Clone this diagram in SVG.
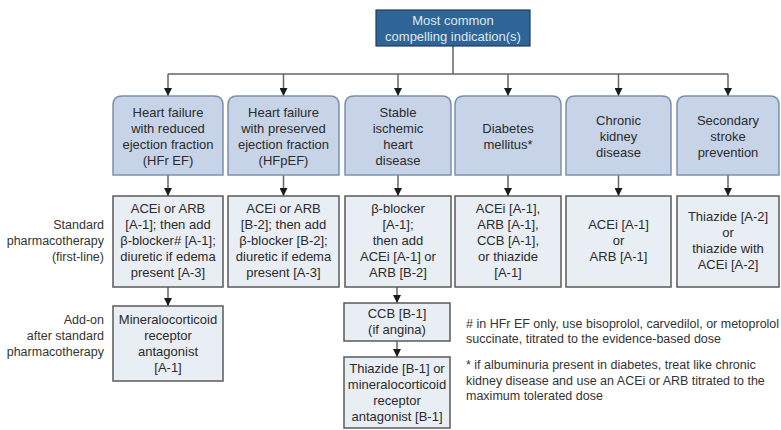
<svg xmlns="http://www.w3.org/2000/svg" width="781" height="430" viewBox="0 0 781 430">
<defs>
<marker id="arr" markerUnits="userSpaceOnUse" markerWidth="8" markerHeight="8" refX="8" refY="4" orient="auto">
<path d="M0,0 L8,4 L0,8 z" fill="#1a1a1a"/>
</marker>
<style>
text{font-family:"Liberation Sans",Arial,sans-serif;font-size:13px;fill:#2b2b2b;text-anchor:middle}
.top rect{fill:#2e6496;stroke:#1d3f61;stroke-width:1.2}
.top text{fill:#dfe9f4}
.cat path{fill:#c7d4e7;stroke:#7b90ad;stroke-width:1.5}
.rx rect{fill:#e9edf4;stroke:#5a5a5a;stroke-width:1.5}
.lbl text{text-anchor:end;font-size:12.5px;fill:#333}
.note text{text-anchor:start;font-size:12.5px;fill:#333}
#connectors path{fill:none;stroke:#666;stroke-width:1.5}
#connectors .a{marker-end:url(#arr)}
</style>
</defs>
<rect width="781" height="430" fill="#ffffff"/>

<g id="connectors">
<path d="M453,46 V74 M168,74 H728"/>
<path class="a" d="M168,74 V96"/>
<path class="a" d="M283.5,74 V96"/>
<path class="a" d="M398,74 V96"/>
<path class="a" d="M508,74 V96"/>
<path class="a" d="M618.5,74 V96"/>
<path class="a" d="M728,74 V96"/>
<path class="a" d="M168,175 V196"/>
<path class="a" d="M283.5,175 V196"/>
<path class="a" d="M398,175 V196"/>
<path class="a" d="M508,175 V196"/>
<path class="a" d="M618.5,175 V196"/>
<path class="a" d="M728,175 V196"/>
<path class="a" d="M168,287 V306"/>
<path class="a" d="M397,287 V303"/>
<path class="a" d="M397,341 V357"/>
</g>

<g id="top" class="top">
<rect x="376" y="10" width="154" height="36"/>
<text x="453" y="24.5">Most common</text>
<text x="453" y="41">compelling indication(s)</text>
</g>

<g id="cat-hfref" class="cat">
<path d="M113,175 V105 Q113,96 122,96 H214 Q223,96 223,105 V175 Z"/>
<text x="168" y="116.5">Heart failure</text>
<text x="168" y="132.5">with reduced</text>
<text x="168" y="148.5">ejection fraction</text>
<text x="168" y="164.5">(HFr EF)</text>
</g>
<g id="cat-hfpef" class="cat">
<path d="M228,175 V105 Q228,96 237,96 H330 Q339,96 339,105 V175 Z"/>
<text x="283.5" y="116.5">Heart failure</text>
<text x="283.5" y="132.5">with preserved</text>
<text x="283.5" y="148.5">ejection fraction</text>
<text x="283.5" y="164.5">(HFpEF)</text>
</g>
<g id="cat-sihd" class="cat">
<path d="M345,175 V105 Q345,96 354,96 H442 Q451,96 451,105 V175 Z"/>
<text x="398" y="116.5">Stable</text>
<text x="398" y="132.5">ischemic</text>
<text x="398" y="148.5">heart</text>
<text x="398" y="164.5">disease</text>
</g>
<g id="cat-dm" class="cat">
<path d="M455,175 V105 Q455,96 464,96 H552 Q561,96 561,105 V175 Z"/>
<text x="508" y="132.5">Diabetes</text>
<text x="508" y="148.5">mellitus*</text>
</g>
<g id="cat-ckd" class="cat">
<path d="M566,175 V105 Q566,96 575,96 H662 Q671,96 671,105 V175 Z"/>
<text x="618.5" y="124.5">Chronic</text>
<text x="618.5" y="140.5">kidney</text>
<text x="618.5" y="156.5">disease</text>
</g>
<g id="cat-stroke" class="cat">
<path d="M677,175 V105 Q677,96 686,96 H770 Q779,96 779,105 V175 Z"/>
<text x="728" y="124.5">Secondary</text>
<text x="728" y="140.5">stroke</text>
<text x="728" y="156.5">prevention</text>
</g>

<g id="lbl-standard" class="lbl">
<text x="104" y="228.5">Standard</text>
<text x="104" y="244.5">pharmacotherapy</text>
<text x="104" y="260.5">(first-line)</text>
</g>
<g id="lbl-addon" class="lbl">
<text x="104" y="323.5">Add-on</text>
<text x="104" y="339.5">after standard</text>
<text x="104" y="355.5">pharmacotherapy</text>
</g>

<g id="rx-hfref" class="rx">
<rect x="113" y="196" width="110" height="91"/>
<text x="168" y="212.5">ACEi or ARB</text>
<text x="168" y="228.5">[A-1]; then add</text>
<text x="168" y="244.5">β-blocker# [A-1];</text>
<text x="168" y="260.5">diuretic if edema</text>
<text x="168" y="276.5">present [A-3]</text>
</g>
<g id="rx-hfpef" class="rx">
<rect x="228" y="196" width="111" height="91"/>
<text x="283.5" y="212.5">ACEi or ARB</text>
<text x="283.5" y="228.5">[B-2]; then add</text>
<text x="283.5" y="244.5">β-blocker [B-2];</text>
<text x="283.5" y="260.5">diuretic if edema</text>
<text x="283.5" y="276.5">present [A-3]</text>
</g>
<g id="rx-sihd" class="rx">
<rect x="345" y="196" width="106" height="91"/>
<text x="398" y="212.5">β-blocker</text>
<text x="398" y="228.5">[A-1];</text>
<text x="398" y="244.5">then add</text>
<text x="398" y="260.5">ACEi [A-1] or</text>
<text x="398" y="276.5">ARB [B-2]</text>
</g>
<g id="rx-dm" class="rx">
<rect x="455" y="196" width="106" height="91"/>
<text x="508" y="212.5">ACEi [A-1],</text>
<text x="508" y="228.5">ARB [A-1],</text>
<text x="508" y="244.5">CCB [A-1],</text>
<text x="508" y="260.5">or thiazide</text>
<text x="508" y="276.5">[A-1]</text>
</g>
<g id="rx-ckd" class="rx">
<rect x="566" y="196" width="105" height="91"/>
<text x="618.5" y="228.5">ACEi [A-1]</text>
<text x="618.5" y="244.5">or</text>
<text x="618.5" y="260.5">ARB [A-1]</text>
</g>
<g id="rx-stroke" class="rx">
<rect x="677" y="196" width="102" height="91"/>
<text x="728" y="220.5">Thiazide [A-2]</text>
<text x="728" y="236.5">or</text>
<text x="728" y="252.5">thiazide with</text>
<text x="728" y="268.5">ACEi [A-2]</text>
</g>

<g id="addon-mra" class="rx">
<rect x="113" y="306" width="110" height="75"/>
<text x="168" y="323.5">Mineralocorticoid</text>
<text x="168" y="339.5">receptor</text>
<text x="168" y="355.5">antagonist</text>
<text x="168" y="371.5">[A-1]</text>
</g>
<g id="addon-ccb" class="rx">
<rect x="344" y="303" width="106" height="38"/>
<text x="397" y="317.5">CCB [B-1]</text>
<text x="397" y="333.5">(if angina)</text>
</g>
<g id="addon-thiazide" class="rx">
<rect x="344" y="357" width="106" height="71"/>
<text x="397" y="372.5">Thiazide [B-1] or</text>
<text x="397" y="388.5">mineralocorticoid</text>
<text x="397" y="404.5">receptor</text>
<text x="397" y="420.5">antagonist [B-1]</text>
</g>

<g id="notes" class="note">
<text x="466" y="328"># in HFr EF only, use bisoprolol, carvedilol, or metoprolol</text>
<text x="466" y="343">succinate, titrated to the evidence-based dose</text>
<text x="466" y="369">* if albuminuria present in diabetes, treat like chronic</text>
<text x="466" y="385">kidney disease and use an ACEi or ARB titrated to the</text>
<text x="466" y="400">maximum tolerated dose</text>
</g>
</svg>
